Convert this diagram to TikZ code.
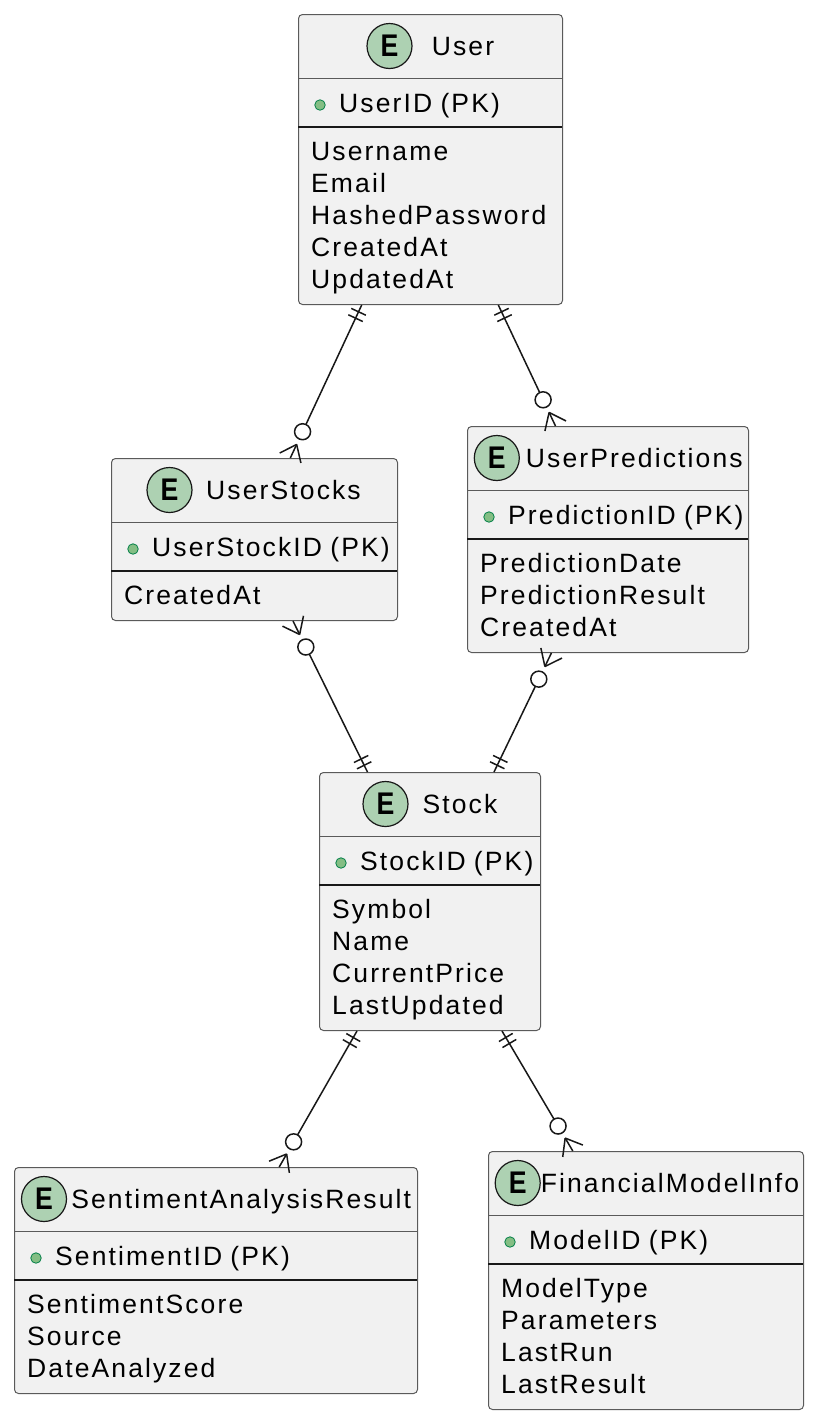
\documentclass[tikz,border=0pt]{standalone}
\usepackage{fontspec}
\setmainfont{Liberation Sans}[LetterSpace=8]
\newfontfamily\ebold{Liberation Sans Bold}
\usetikzlibrary{calc}
\definecolor{boxfill}{HTML}{F1F1F1}
\definecolor{boxline}{HTML}{5A5A5A}
\definecolor{spotfill}{HTML}{ADD1B2}
\definecolor{pkfill}{HTML}{84BE84}
\definecolor{pkline}{HTML}{038048}
\definecolor{lnk}{HTML}{181818}
\tikzset{
  entbox/.style={draw=boxline, fill=boxfill, line width=1pt, rounded corners=4pt, inner sep=0pt},
  hsep/.style={draw=boxline, line width=1pt},
  ksep/.style={draw=lnk, line width=2pt},
  txt/.style={inner sep=0pt, anchor=base west, font=\fontsize{26.5}{30}\selectfont},
  ttl/.style={inner sep=0pt, anchor=base, font=\fontsize{26.5}{30}\selectfont},
  spot/.style={circle, draw=lnk, fill=spotfill, line width=1.2pt, minimum size=45pt, inner sep=0pt, font=\ebold\fontsize{29}{30}\selectfont},
  pkdot/.style={circle, draw=pkline, fill=pkfill, line width=0.8pt, minimum size=10.5pt, inner sep=0pt},
  rel/.style={draw=lnk, line width=1.5pt},
  ocirc/.style={circle, draw=lnk, fill=white, line width=1.5pt, minimum size=16pt, inner sep=0pt},
}
% #1 name, #2 left, #3 top, #4 width, #5 n attrs, #6 spot cx, #7 title cx, #8 title, #9 pk
\newcommand\Ent[9]{%
  \node[entbox, minimum width=#4pt, minimum height={130pt+32pt*#5}, anchor=north west] (#1) at (#2,#3) {};
  \draw[hsep] (#2,#3+64) -- ++(#4,0);
  \node[spot] (#1-spot) at (#6,#3+32) {\scalebox{0.92}[1.08]{E}};
  \node[ttl] (#1-title) at (#7,#3+41.5) {#8};
  \node[pkdot] (#1-pkdot) at (#2+22,#3+91) {};
  \node[txt] (#1-pk) at (#2+41,#3+98) {#9\ \kern-1.2pt(PK)};
  \draw[ksep] (#2,#3+113) -- ++(#4,0);
}
\newcommand\Attrs[4]{%
  \foreach \a [count=\i from 0] in {#4} {\node[txt] (#1-a\i) at (#2+13,#3+146+32*\i) {\a};}
}
\newcommand\Rel[2]{%
  \draw[rel] (#1) -- ($(#2)!37pt!(#1)$);
  \node[ocirc] (#2-o) at ($(#2)!29pt!(#1)$) {};
  \coordinate (#2-apex) at ($(#2)!15pt!(#1)$);
  \draw[rel] (#2-apex) -- (#2);
  \draw[rel] (#2-apex) -- ($(#2)!11.7pt!90:(#1)$);
  \draw[rel] (#2-apex) -- ($(#2)!11.7pt!-90:(#1)$);
  \coordinate (#1-b1) at ($(#1)!7.5pt!(#2)$);
  \coordinate (#1-b2) at ($(#1)!14.5pt!(#2)$);
  \draw[rel] ($(#1-b1)!8pt!90:(#2)$) -- ($(#1-b1)!8pt!-90:(#2)$);
  \draw[rel] ($(#1-b2)!8pt!90:(#2)$) -- ($(#1-b2)!8pt!-90:(#2)$);
}
\begin{document}
\begin{tikzpicture}[x=1pt,y=-1pt]
\useasboundingbox (0,0) rectangle (818,1422);
\fill[white] (0,0) rectangle (818,1422);

\Ent{user}{298}{14}{264}{5}{389.5}{463}{User}{UserID}
\Attrs{user}{298}{14}{Username,Email,HashedPassword,CreatedAt,UpdatedAt}
\Ent{ustk}{111}{458}{286}{1}{169.5}{283.5}{UserStocks}{UserStockID}
\Attrs{ustk}{111}{458}{CreatedAt}
\Ent{upred}{467}{426}{281}{3}{496.8}{634.3}{UserPredictions}{PredictionID}
\Attrs{upred}{467}{426}{PredictionDate,PredictionResult,CreatedAt}
\Ent{stock}{319}{772}{221}{4}{385.5}{460}{Stock}{StockID}
\Attrs{stock}{319}{772}{Symbol,Name,CurrentPrice,LastUpdated}
\Ent{sent}{14}{1167}{403}{3}{44}{241.2}{SentimentAnalysisResult}{SentimentID}
\Attrs{sent}{14}{1167}{SentimentScore,Source,DateAnalyzed}
\Ent{fin}{488}{1151}{315}{4}{517.7}{670}{FinancialModelInfo}{ModelID}
\Attrs{fin}{488}{1151}{ModelType,Parameters,LastRun,LastResult}

\coordinate (c1a) at (361.7,0 |- user.south);
\coordinate (c1b) at (290.3,0 |- ustk.north);
\coordinate (c2a) at (498.3,0 |- user.south);
\coordinate (c2b) at (555.5,0 |- upred.north);
\coordinate (c3a) at (367.5,0 |- stock.north);
\coordinate (c3b) at (293,0 |- ustk.south);
\coordinate (c4a) at (494,0 |- stock.north);
\coordinate (c4b) at (551.4,0 |- upred.south);
\coordinate (c5a) at (357,0 |- stock.south);
\coordinate (c5b) at (279.2,0 |- sent.north);
\coordinate (c6a) at (502,0 |- stock.south);
\coordinate (c6b) at (572.8,0 |- fin.north);

\Rel{c1a}{c1b}
\Rel{c2a}{c2b}
\Rel{c3a}{c3b}
\Rel{c4a}{c4b}
\Rel{c5a}{c5b}
\Rel{c6a}{c6b}
\end{tikzpicture}
\end{document}
